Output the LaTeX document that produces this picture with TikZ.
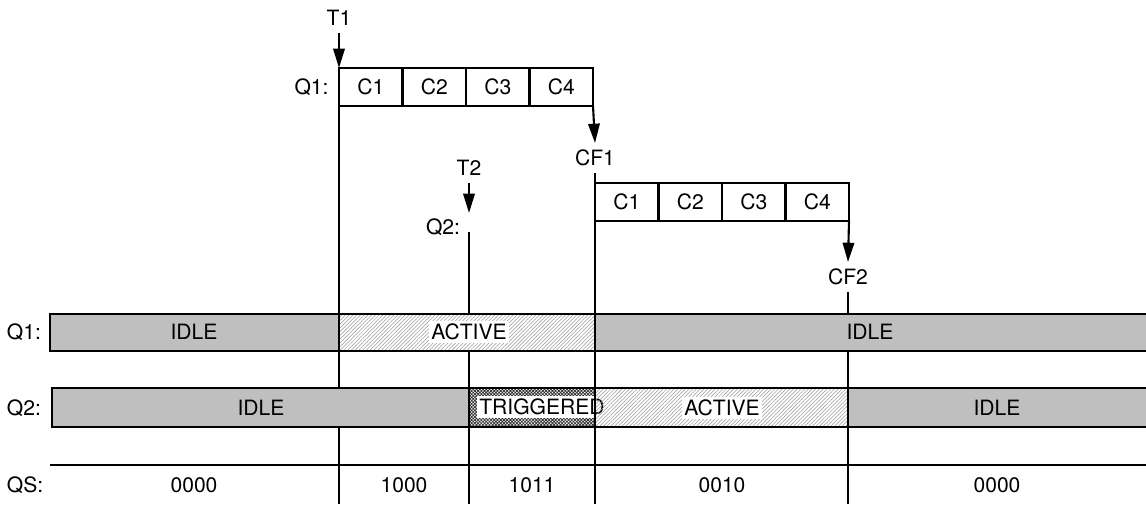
\documentclass[tikz,border=0pt]{standalone}
\usepackage{fontspec}
\setmainfont{TeX Gyre Heros}
\usetikzlibrary{arrows.meta,positioning,patterns.meta}
\definecolor{idlegray}{gray}{0.75}

\begin{document}
\begin{tikzpicture}[
    x=0.2mm, y=-0.2mm,
    >={Triangle[length=11pt,width=6.5pt]},
    line width=1.2pt,
    every node/.style={font=\fontsize{12}{14}\selectfont},
    cell/.style={draw, minimum width=12.7mm, minimum height=7.6mm, inner sep=0pt, outer sep=0pt},
    idle/.style={fill=idlegray},
    active/.style={pattern={Lines[angle=45,distance=1.5pt,line width=0.3pt]}, pattern color=black!40},
    trig/.style={preaction={fill=white}, pattern={Hatch[angle=45,distance=1.3pt,line width=0.45pt]}, pattern color=black!80},
    tag/.style={fill=white, inner sep=1.5pt}
  ]
    \useasboundingbox (0,0) rectangle (1146,504);

    % queue 1 gets its four cells after T1
    \node (t1) at (339,18) {T1};
    \node[cell, anchor=north west] (a1) at (339,68) {C1};
    \foreach \i [remember=\i as \j (initially 1)] in {2,3,4}
      \node[cell, right=0pt of a\j] (a\i) {C\i};
    \node[left=2pt of a1] (q1name) {Q1:};
    \node (cf1) at (595,158) {CF1};

    % queue 2 follows after CF1
    \node[cell, anchor=north west] (b1) at (595,183) {C1};
    \foreach \i [remember=\i as \j (initially 1)] in {2,3,4}
      \node[cell, right=0pt of b\j] (b\i) {C\i};
    \node (cf2) at (848,277) {CF2};

    \node (t2) at (469,168) {T2};
    \coordinate (t2end) at (469,213);
    \node (q2name) at (443,227) {Q2:};
    \coordinate (q2top) at (469,232);

    \coordinate (e1) at (339,504);
    \coordinate (e2) at (469,504);
    \coordinate (e3) at (595,504);
    \coordinate (e4) at (848,504);

    \draw[->] (t1) -- (a1.north west);
    \draw[->] (a4.south east) -- (cf1.north);
    \draw[->] (t2) -- (t2end);
    \draw[->] (b4.south east) -- (cf2.north);
    \draw (a1.south west) -- (e1);
    \draw (q2top) -- (e2);
    \draw (cf1.south) -- (e3);
    \draw (cf2.south) -- (e4);

    % state bars
    \fill[idle] (50,314) rectangle (339,351);
    \fill[white] (339,314) rectangle (595,351);
    \fill[active] (339,314) rectangle (595,351);
    \fill[idle] (595,314) rectangle (1146,351);

    \fill[idle] (52,388) rectangle (469,427);
    \fill[trig] (469,388) rectangle (595,427);
    \fill[white] (595,388) rectangle (848,427);
    \fill[idle] (848,388) rectangle (1146,427);
    \node[tag] (trg) at (542,407) {TRIGGERED};
    \fill[active] (595,388) rectangle (848,427);

    \node[anchor=west] (q1row) at (0,332) {Q1:};
    \node[anchor=west] (q2row) at (0,408) {Q2:};
    \node[anchor=west] (qsrow) at (0,485) {QS:};

    \node (q1idle) at (194,332) {IDLE};
    \node[tag] (q1act) at (469,332) {ACTIVE};
    \node (q1idle2) at (870,332) {IDLE};
    \node (q2idle) at (261,408) {IDLE};
    \node[tag] (q2act) at (722,408) {ACTIVE};
    \node (q2idle2) at (997,408) {IDLE};

    \draw (1146,314) -- (50,314) -- (50,351) -- (1146,351);
    \draw (339,314) -- (339,351) (595,314) -- (595,351);
    \draw (1146,388) -- (52,388) -- (52,427) -- (1146,427);
    \draw (469,388) -- (469,427) (595,388) -- (595,427) (848,388) -- (848,427);

    % status word
    \draw (50,465) -- (1146,465);
    \foreach \x/\bits in {194/0000,404/1000,532/1011,722/0010,997/0000}
      \node at (\x,485) {\bits};
  \end{tikzpicture}
\end{document}
